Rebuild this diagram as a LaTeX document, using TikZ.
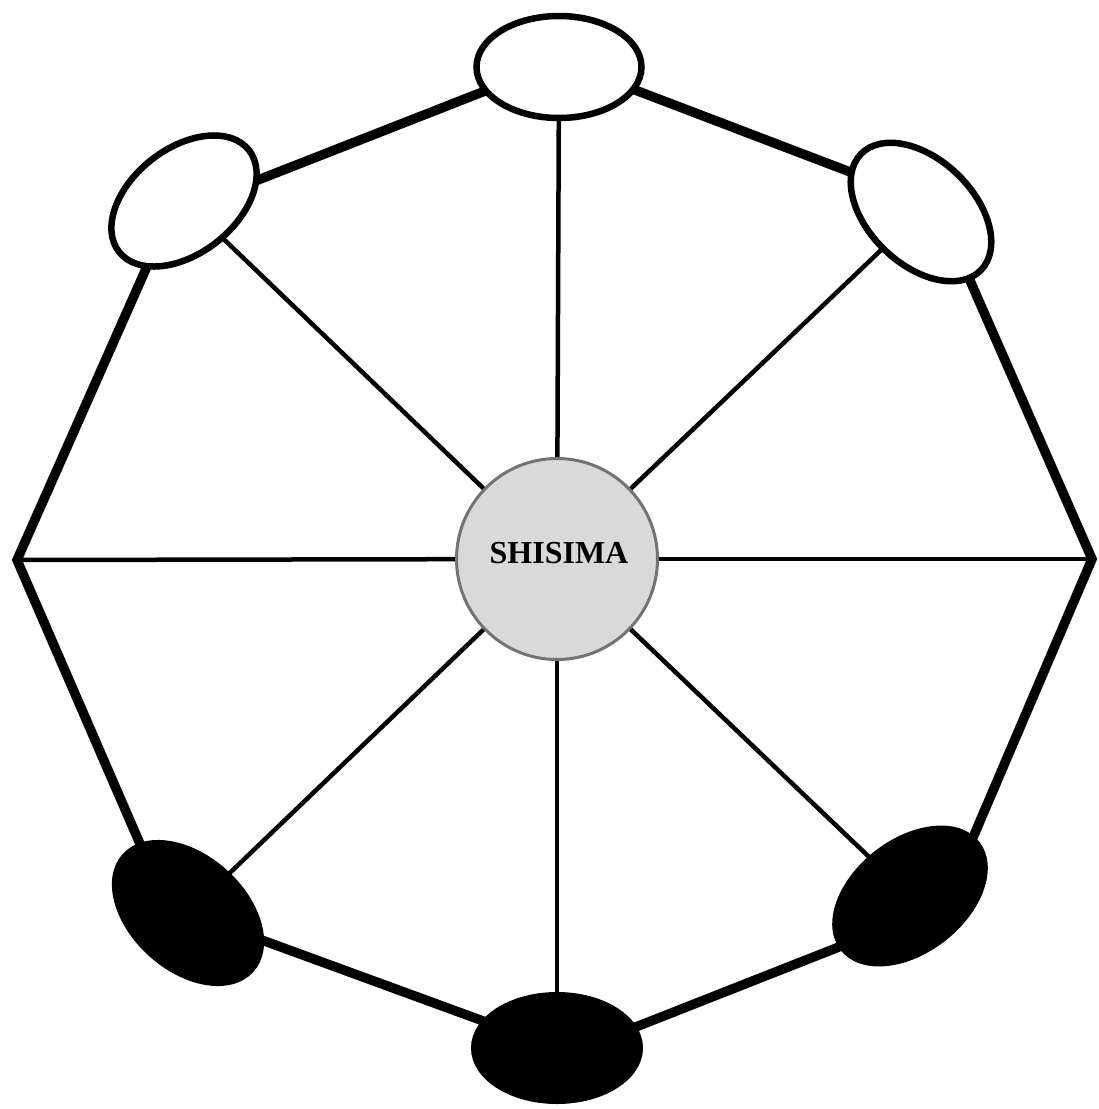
\documentclass[tikz,border=0pt]{standalone}
\usepackage{fontspec}
\setmainfont{Liberation Serif}
\usetikzlibrary{shapes.geometric,backgrounds}
\begin{document}
\begin{tikzpicture}[x=1pt,y=-1pt,
  rim/.style={line width=9.5pt,line join=miter},
  spoke/.style={line width=4.5pt},
  whitepiece/.style={ellipse,draw=black,fill=white,line width=6.5pt,inner sep=0pt},
  blackpiece/.style={ellipse,draw=black,fill=black,line width=5pt,inner sep=0pt},
  hub/.style={circle,draw=black!55,fill=black!15,line width=3pt,inner sep=0pt,minimum size=201pt},
  hublabel/.style={font=\bfseries\fontsize{32}{36}\selectfont,inner sep=0pt}]
\useasboundingbox (0,0) rectangle (1099,1109);
\coordinate (L) at (17,560);
\coordinate (R) at (1092,559);
\node[whitepiece,minimum width=165pt,minimum height=102pt] (T) at (559,67) {};
\node[whitepiece,minimum width=165pt,minimum height=105pt,rotate=38] (TL) at (184,201) {};
\node[whitepiece,minimum width=167pt,minimum height=105pt,rotate=-44] (TR) at (921,212) {};
\node[blackpiece,minimum width=171pt,minimum height=111pt,rotate=-42] (BL) at (188,913) {};
\node[blackpiece,minimum width=171pt,minimum height=109pt,rotate=38] (BR) at (910,896) {};
\node[blackpiece,minimum width=167pt,minimum height=107pt] (B) at (557,1048) {};
\node[hub] (C) at (557,559) {};
\node[hublabel] (lbl) at (559,553) {SHISIMA};
\begin{pgfonlayer}{background}
  \draw[rim] ([shift={(0,-5)}]T.center) -- ([shift={(0,8)}]TL.center);
  \draw[rim] ([shift={(-18,0)}]BL.center) -- (L) -- ([shift={(-8,0)}]TL.center);
  \draw[rim] (BL.center) -- (B.center);
  \draw[rim] ([shift={(0,10)}]B.center) -- ([shift={(0,23)}]BR.center);
  \draw[rim] ([shift={(38,0)}]BR.center) -- (R) -- ([shift={(19,0)}]TR.center);
  \draw[rim] ([shift={(0,-13)}]TR.center) -- ([shift={(0,-6)}]T.center);
  \foreach \p in {T,TL,TR,BL,BR,B}
    \draw[spoke] (C.center) -- (\p.center);
  \draw[spoke] (C.center) -- (L);
  \draw[spoke] (C.center) -- (R);
\end{pgfonlayer}
\end{tikzpicture}
\end{document}
